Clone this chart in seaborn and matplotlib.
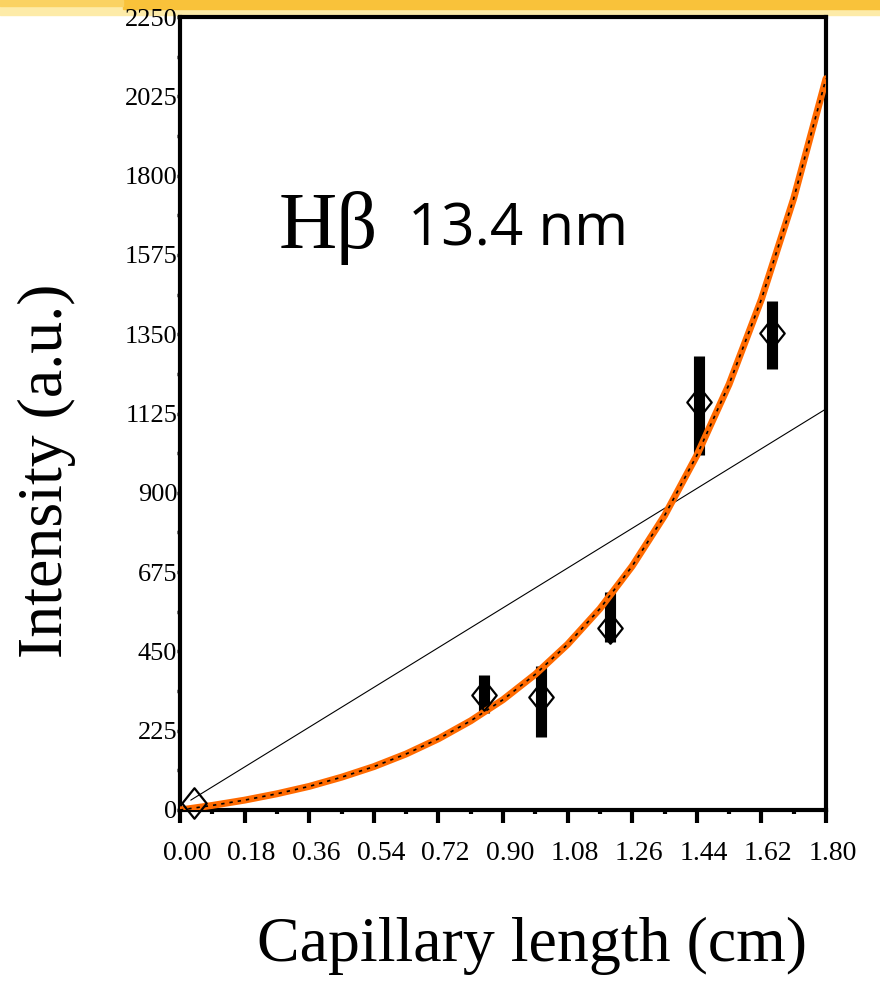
import numpy as np
import matplotlib
matplotlib.use("Agg")
import matplotlib.pyplot as plt
import seaborn as sns
from matplotlib.path import Path
from matplotlib.patches import Rectangle
from matplotlib.transforms import ScaledTranslation

# measured points (capillary length in cm, intensity a.u.)
pt_x = [0.04, 0.846, 1.005, 1.199, 1.446, 1.649]
pt_y = [20, 326, 321, 516, 1158, 1353]
bar_lo = [20, 275, 207, 477, 1007, 1251]
bar_hi = [20, 383, 409, 619, 1288, 1444]

# exponential fit curve
fit_x = [0.00, 0.09, 0.18, 0.27, 0.36, 0.45, 0.54, 0.63, 0.72, 0.81, 0.90,
         0.99, 1.08, 1.17, 1.26, 1.35, 1.44, 1.53, 1.62, 1.71, 1.80]
fit_y = [0, 13, 28, 46, 67, 93, 123, 159, 202, 253, 313,
         385, 470, 571, 692, 835, 1006, 1208, 1449, 1735, 2075]

# linear fit
lin_x = [0.03, 1.80]
lin_y = [28, 1138]

x_ticks = [0.00, 0.18, 0.36, 0.54, 0.72, 0.90, 1.08, 1.26, 1.44, 1.62, 1.80]
y_ticks = [0, 225, 450, 675, 900, 1125, 1350, 1575, 1800, 2025, 2250]

sns.set_theme(style="white")
plt.rcParams["font.family"] = ["Liberation Serif", "DejaVu Serif"]
plt.rcParams["text.color"] = "black"
plt.rcParams["axes.labelcolor"] = "black"

W, H = 880, 982
fig = plt.figure(figsize=(8.8, 9.82), dpi=100)
ax = fig.add_axes([180 / W, 1 - 810 / H, 646 / W, 793 / H])

# yellow brush strip at the top
fig.patches.append(Rectangle((0, 1 - 15 / H), 1, 15 / H, transform=fig.transFigure,
                             color="#FDEBA8", zorder=-2))
fig.patches.append(Rectangle((0.14, 1 - 9 / H), 0.86, 9 / H, transform=fig.transFigure,
                             color="#F9C23A", zorder=-1))
fig.patches.append(Rectangle((0, 1 - 6 / H), 0.14, 6 / H, transform=fig.transFigure,
                             color="#FAD262", zorder=-1))

# error bars
yerr = [np.array(pt_y) - np.array(bar_lo), np.array(bar_hi) - np.array(pt_y)]
ax.errorbar(pt_x, pt_y, yerr=yerr, fmt="none", ecolor="black", elinewidth=8,
            capsize=0, zorder=2)

sns.lineplot(x=lin_x, y=lin_y, color="black", lw=0.8, ax=ax, zorder=3)
sns.lineplot(x=fit_x, y=fit_y, color="#FF6A00", lw=5, ax=ax, zorder=4)
ax.plot(fit_x, fit_y, color="black", lw=1.2, dashes=(2, 3), zorder=5)

diamond = Path([(0, 1), (0.8, 0), (0, -1), (-0.8, 0), (0, 1)],
               [Path.MOVETO, Path.LINETO, Path.LINETO, Path.LINETO, Path.CLOSEPOLY])
ax.plot(pt_x, pt_y, ls="none", marker=diamond, ms=22, mfc="none", mec="black",
        mew=1.6, zorder=6, clip_on=False)

ax.set_xlim(0, 1.8)
ax.set_ylim(0, 2250)
ax.set_xticks(x_ticks)
ax.set_xticklabels([f"{v:.2f}" for v in x_ticks])
ax.set_xticks(np.array(x_ticks[:-1]) + 0.09, minor=True)
ax.set_yticks(y_ticks)
ax.set_yticklabels([str(v) for v in y_ticks])
ax.set_yticks(np.array(y_ticks[:-1]) + 112.5, minor=True)

for s in ax.spines.values():
    s.set_color("black")
    s.set_linewidth(3)

ax.tick_params(axis="x", which="major", direction="out", length=9.5, width=3,
               colors="black", labelsize=20, pad=13, bottom=True)
ax.tick_params(axis="x", which="minor", direction="out", length=3, width=3,
               colors="black", bottom=True)
ax.tick_params(axis="y", which="both", direction="out", length=2, width=2.5,
               colors="black", labelsize=19, pad=0, left=True)
for lab in ax.get_xticklabels():
    lab.set_transform(lab.get_transform() + ScaledTranslation(0.07, 0, fig.dpi_scale_trans))

ax.set_xlabel("Capillary length (cm)", fontsize=46, va="center")
ax.xaxis.set_label_coords(0.545, -0.172)
ax.set_ylabel("Intensity (a.u.)", fontsize=46, va="center", ha="center")
ax.yaxis.set_label_coords(-0.206, 0.4275)

fig.text(279 / W, 1 - 248 / H, "H\u03b2", fontsize=58, ha="left", va="baseline")
fig.text(408 / W, 1 - 245 / H, "13.4 nm", fontsize=42, ha="left", va="baseline",
         family=["Open Sans", "DejaVu Sans"])

fig.savefig("out.png", dpi=100, facecolor="white")
